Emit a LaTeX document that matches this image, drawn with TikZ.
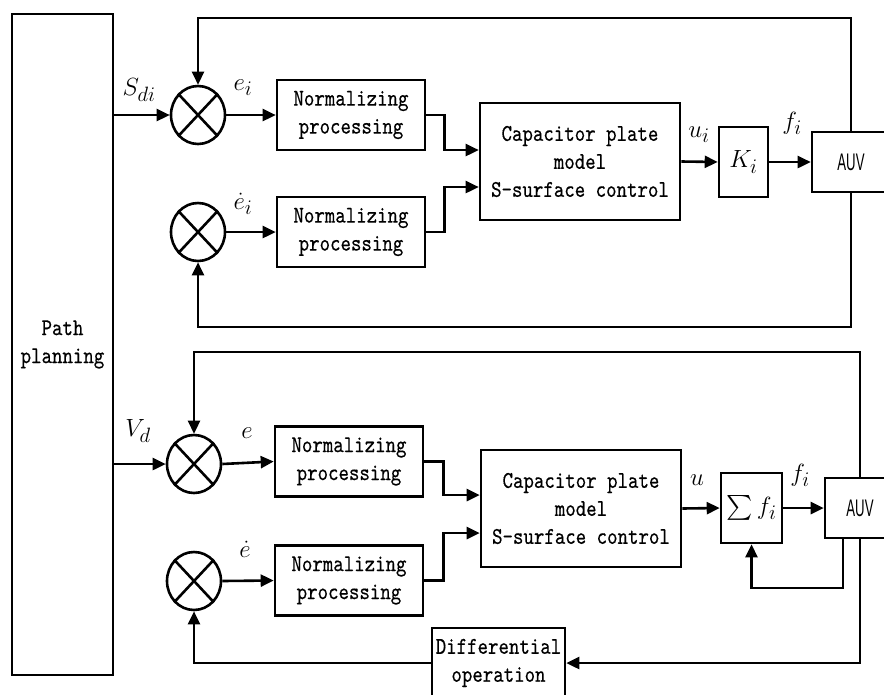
\documentclass[tikz,border=0pt]{standalone}
\usepackage{amsmath}
\usepackage{fontspec}
\usetikzlibrary{calc, arrows.meta, shapes.geometric}
\newfontfamily\blockfont{lmmono10-regular.otf}[FakeStretch=0.83, FakeBold=0.4]
\newfontfamily\auvfont{Liberation Sans}[FakeStretch=0.55]

\begin{document}
\begin{tikzpicture}[x=1pt, y=-1pt, line width=2.6pt,
    blk/.style={draw, rectangle, inner sep=0pt, align=center,
        font=\blockfont\fontsize{24}{28}\selectfont},
    nbox/.style={blk, minimum width=148pt, minimum height=70pt},
    capbox/.style={blk, minimum width=200pt, minimum height=117pt},
    auvbox/.style={blk, minimum height=60pt, font=\auvfont\fontsize{24}{26}\selectfont},
    junc/.style={draw, ellipse, minimum width=54pt, minimum height=58pt, inner sep=0pt},
    sig/.style={font=\fontsize{30}{34}\selectfont},
    arr/.style={-{Triangle[length=13pt, width=12pt]}}]

    \useasboundingbox (0,0) rectangle (884,694);

    \node[blk, minimum width=101pt, minimum height=661pt] (plan) at (62.5,344.5) {Path\\planning};

    % heading loop
    \node[junc] (s1) at (198,115) {};
    \node[junc] (s2) at (198,232) {};
    \node[nbox] (nb1) at (351,115) {Normalizing\\processing};
    \node[nbox] (nb2) at (351,232) {Normalizing\\processing};
    \node[capbox] (cap1) at (580,161.5) {Capacitor plate\\model\\S-surface control};
    \node[blk, minimum width=49pt, minimum height=70pt, font=\fontsize{31}{34}\selectfont] (k) at (743.5,162) {$K_i$};
    \node[auvbox, minimum width=78pt] (auv1) at (851,162) {AUV};

    \coordinate (t1) at (198,18);
    \coordinate (b1) at (198,327);

    \draw[arr] (s1.west -| plan.east) -- (s1.west);
    \draw[arr] (s1.east) -- (nb1.west);
    \draw[arr] (s2.east) -- (nb2.west);
    \draw[arr] (nb1.east) -- ++(18,0) |- ($(cap1.west)+(0,-11.5)$);
    \draw[arr] (nb2.east) -- ++(18,0) |- ($(cap1.west)+(0,25.5)$);
    \draw[arr] (cap1.east) -- (k.west);
    \draw[arr] (k.east) -- (auv1.west);
    \draw[arr] (auv1.north) |- (t1) -- (s1.north);
    \draw[arr] (auv1.south) |- (b1) -- (s2.south);

    \node[sig] (lsd) at (139,90) {$S_{di}$};
    \node[sig] (lei) at (243,88) {$e_i$};
    \node[sig] (ledi) at (243,204) {$\dot e_i$};
    \node[sig] (lui) at (699,135) {$u_i$};
    \node[sig] (lfi) at (792,123) {$f_i$};

    % speed loop
    \node[junc] (s3) at (194,464) {};
    \node[junc] (s4) at (194,581) {};
    \node[nbox] (nb3) at (349,461.5) {Normalizing\\processing};
    \node[nbox] (nb4) at (349,580.5) {Normalizing\\processing};
    \node[capbox] (cap2) at (581,508.5) {Capacitor plate\\model\\S-surface control};
    \node[blk, minimum width=61pt, minimum height=70pt, font=\fontsize{29}{32}\selectfont] (sum) at (751.5,508) {$\sum f_i$};
    \node[auvbox, minimum width=70pt] (auv2) at (860,508) {AUV};
    \node[blk, minimum width=133pt, minimum height=70pt] (dif) at (498.5,663) {Differential\\operation};

    \coordinate (t2) at (194,352);
    \coordinate (b2) at (843,588);

    \draw[arr] (s3.west -| plan.east) -- (s3.west);
    \draw[arr] (s3.east) -- (nb3.west);
    \draw[arr] (s4.east) -- (nb4.west);
    \draw[arr] (nb3.east) -- ++(19,0) |- ($(cap2.west)+(0,-13.5)$);
    \draw[arr] (nb4.east) -- ++(19,0) |- ($(cap2.west)+(0,24.5)$);
    \draw[arr] (cap2.east) -- (sum.west);
    \draw[arr] (sum.east) -- (auv2.west);
    \draw[arr] (auv2.north) |- (t2) -- (s3.north);
    \draw[arr] (auv2.south -| b2) -- (b2) -| (sum.south);
    \draw[arr] (auv2.south) |- (dif.east);
    \draw[arr] (dif.west) -| (s4.south);

    \node[sig] (lvd) at (138,431) {$V_d$};
    \node[sig] (le) at (247,433) {$e$};
    \node[sig] (led) at (245,549) {$\dot e$};
    \node[sig] (lu) at (697,480) {$u$};
    \node[sig] (lf) at (800,475) {$f_i$};

    \foreach \s in {s1,s2,s3,s4} {
        \draw (\s.north west) -- (\s.south east);
        \draw (\s.north east) -- (\s.south west);
    }
\end{tikzpicture}
\end{document}
